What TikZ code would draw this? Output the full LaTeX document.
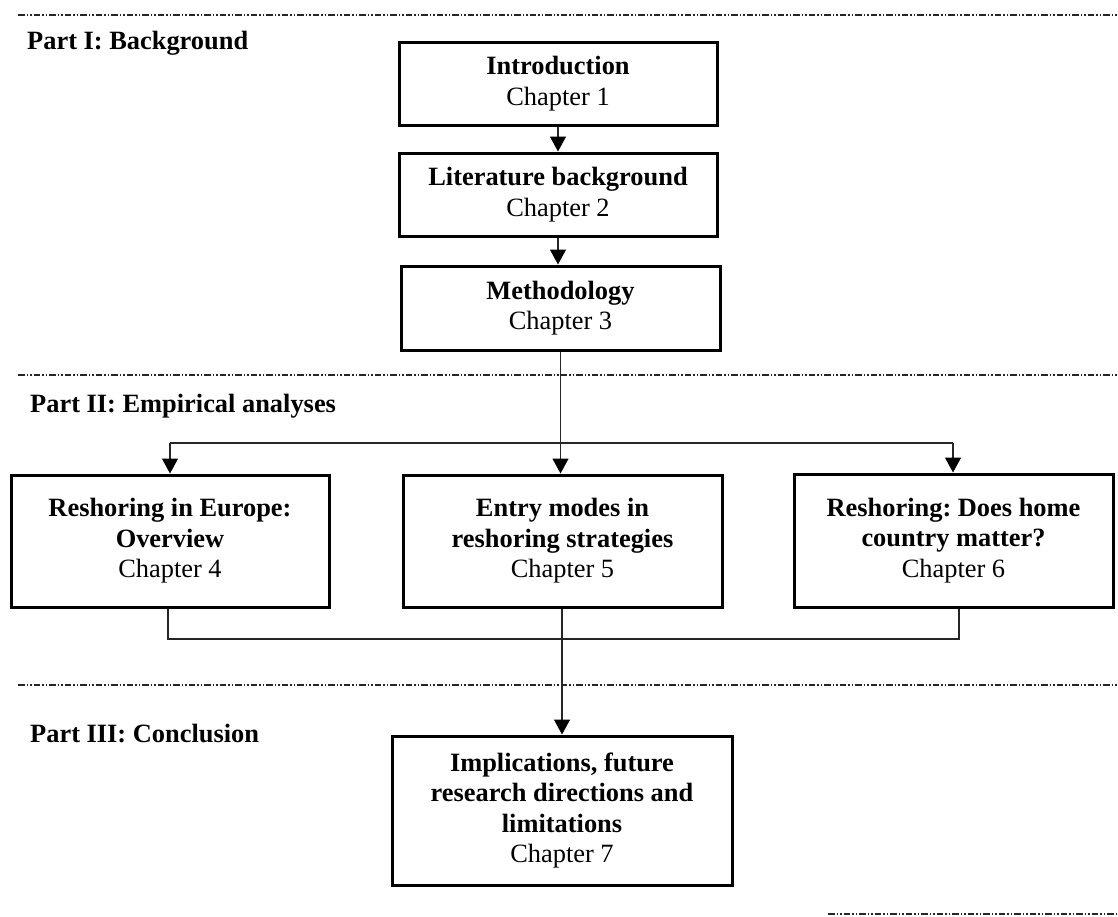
\documentclass[tikz,border=0pt]{standalone}
\usepackage{fontspec}
\setmainfont{Liberation Serif}
\frenchspacing
\usetikzlibrary{arrows.meta}
\tikzset{
  chapbox/.style={draw=black, line width=3pt, rectangle, inner sep=0pt, align=center,
    font=\fontsize{26.4}{30.5}\selectfont},
  partlabel/.style={anchor=base west, inner sep=0pt, font=\fontsize{26.4}{30.5}\selectfont\bfseries},
  conn/.style={draw=black!85, line width=1.3pt},
  arr/.style={conn, -{Triangle[length=15pt, width=16pt, color=black]}},
  sep/.style={draw=black!85, line width=1.4pt, dash pattern=on 6.5pt off 2pt on 1.5pt off 2pt on 1.5pt off 2pt}
}
\begin{document}
\begin{tikzpicture}[x=1pt, y=-1pt]
\useasboundingbox (0,0) rectangle (1118,916);
% separators
\draw[sep] (18,15) -- (1118,15);
\draw[sep] (18,375) -- (1118,375);
\draw[sep] (18,685) -- (1118,685);
\draw[sep] (828,914) -- (1118,914);
% part labels
\node[partlabel] (p1) at (27,49) {Part I: Background};
\node[partlabel] (p2) at (30,412) {Part II: Empirical analyses};
\node[partlabel] (p3) at (30,742) {Part III: Conclusion};
% boxes
\node[chapbox, minimum width=318pt, minimum height=83pt] (b1) at (558,83.5)
  {\textbf{Introduction}\\Chapter 1};
\node[chapbox, minimum width=318pt, minimum height=83pt] (b2) at (558,194.5)
  {\textbf{Literature background}\\Chapter 2};
\node[chapbox, minimum width=319pt, minimum height=84pt] (b3) at (560.5,308)
  {\textbf{Methodology}\\Chapter 3};
\node[chapbox, minimum width=318pt, minimum height=132pt] (b4) at (170,541)
  {\textbf{Reshoring in Europe:}\\\textbf{Overview}\\Chapter 4};
\node[chapbox, minimum width=319pt, minimum height=132pt] (b5) at (562.5,541)
  {\textbf{Entry modes in}\\\textbf{reshoring strategies}\\Chapter 5};
\node[chapbox, minimum width=319pt, minimum height=133pt] (b6) at (953.5,540.5)
  {\textbf{Reshoring: Does home}\\\textbf{country matter?}\\Chapter 6};
\node[chapbox, minimum width=340pt, minimum height=149pt] (b7) at (562,810.5)
  {\textbf{Implications, future}\\\textbf{research directions and}\\\textbf{limitations}\\Chapter 7};
% junction coordinates
\coordinate (s4) at (170,443);
\coordinate (s6) at (953,443);
\coordinate (m4) at (168,639);
\coordinate (m6) at (959,639);
% connectors
\draw[arr] (b1.south) -- (b1.south |- b2.north);
\draw[arr] (b2.south) -- (b2.south |- b3.north);
\draw[arr] (b3.south) -- (b3.south |- b5.north);
\draw[conn] (s4) -- (s6);
\draw[arr] (s4) -- (s4 |- b4.north);
\draw[arr] (s6) -- (s6 |- b6.north);
\draw[conn] (m4 |- b4.south) -- (m4) -- (m6) -- (m6 |- b6.south);
\draw[arr] (b5.south -| b7.north) -- (b7.north);
\end{tikzpicture}
\end{document}
